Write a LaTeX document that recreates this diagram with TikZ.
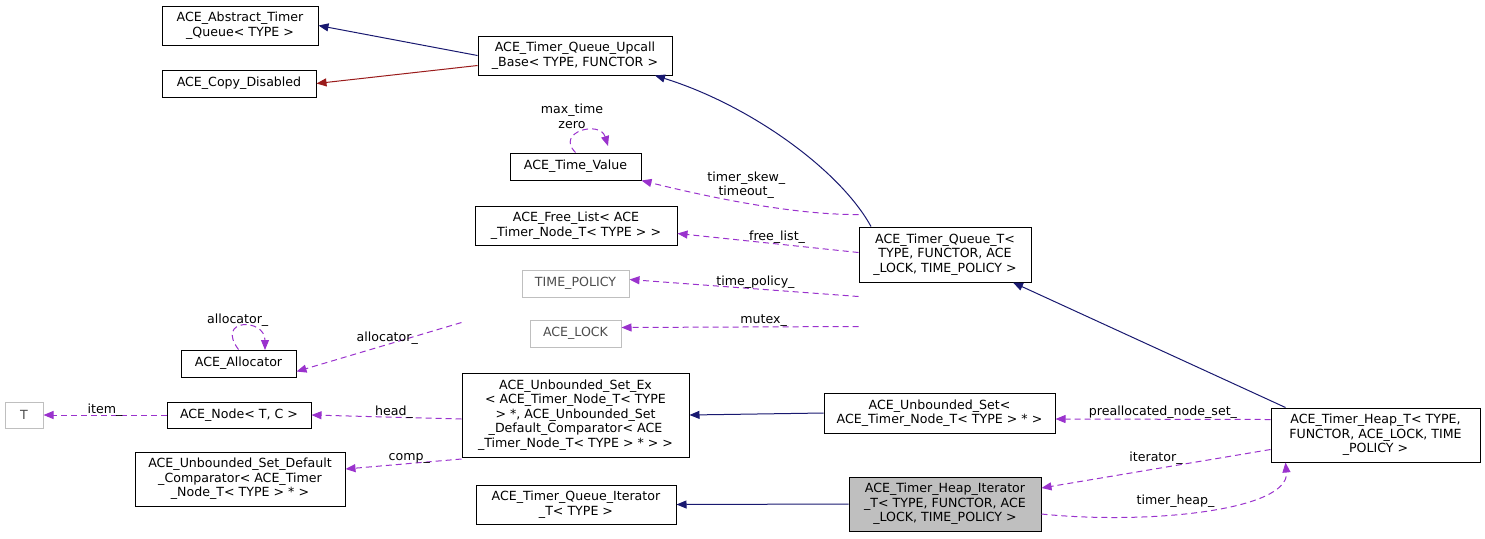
\documentclass[tikz,border=0pt]{standalone}
\usepackage{fontspec}
\setmainfont{DejaVu Sans}
\usetikzlibrary{positioning, calc, arrows.meta}
\definecolor{navyc}{HTML}{191970}
\definecolor{redc}{HTML}{9A1B1B}
\definecolor{purc}{HTML}{9A32CD}
\definecolor{grayc}{HTML}{BFBFBF}
\tikzset{
  cls/.style={draw=black, line width=0.5pt, align=center, inner sep=1pt,
    font=\fontsize{6.3}{7.3}\selectfont},
  ext/.style={cls, draw=grayc, text=black!70},
  inh/.style={navyc, line width=0.5pt, -{Triangle[length=5pt,width=4pt]}},
  priv/.style={inh, draw=redc, -{Triangle[length=5pt,width=4pt,fill=redc]}},
  use/.style={purc, dashed, line width=0.5pt, dash pattern=on 3pt off 2pt,
    -{Triangle[length=5pt,width=4pt]}},
  lbl/.style={font=\fontsize{6.3}{7.3}\selectfont, align=center, inner sep=0pt, text=black}
}
\begin{document}
\begin{tikzpicture}[x=0.5pt, y=-0.5pt]
\useasboundingbox (0,0) rectangle (1485,538);

% classes
\node[cls, minimum width=78pt, minimum height=19.5pt] (abst) at (240,25.5) {ACE\_Abstract\_Timer\\\_Queue< TYPE >};
\node[cls, minimum width=77pt, minimum height=13.5pt] (copy) at (239,83.5) {ACE\_Copy\_Disabled};
\node[cls, minimum width=97pt, minimum height=19.5pt] (upcall) at (575,55.5) {ACE\_Timer\_Queue\_Upcall\\\_Base< TYPE, FUNCTOR >};
\node[cls, minimum width=65.5pt, minimum height=13.5pt] (tval) at (575.5,166.5) {ACE\_Time\_Value};
\node[cls, minimum width=101pt, minimum height=19.5pt] (free) at (576,225.5) {ACE\_Free\_List< ACE\\\_Timer\_Node\_T< TYPE > >};
\node[ext, minimum width=53.5pt, minimum height=13.5pt] (tpol) at (575.5,283.5) {TIME\_POLICY};
\node[ext, minimum width=45.5pt, minimum height=13.5pt] (lock) at (575.5,333.5) {ACE\_LOCK};
\node[cls, minimum width=86pt, minimum height=27.5pt] (tqt) at (945,254.5) {ACE\_Timer\_Queue\_T<\\TYPE, FUNCTOR, ACE\\\_LOCK, TIME\_POLICY >};
\node[cls, minimum width=57.5pt, minimum height=13.5pt] (alloc) at (238.5,363.5) {ACE\_Allocator};
\node[ext, minimum width=19pt, minimum height=13pt] (t) at (24,415) {T};
\node[cls, minimum width=72pt, minimum height=13pt] (anode) at (239,415) {ACE\_Node< T, C >};
\node[cls, minimum width=113.5pt, minimum height=42pt] (setex) at (575.5,415) {ACE\_Unbounded\_Set\_Ex\\< ACE\_Timer\_Node\_T< TYPE\\ > *, ACE\_Unbounded\_Set\\\_Default\_Comparator< ACE\\\_Timer\_Node\_T< TYPE > * > >};
\node[cls, minimum width=105pt, minimum height=27pt] (comp) at (240,479) {ACE\_Unbounded\_Set\_Default\\\_Comparator< ACE\_Timer\\\_Node\_T< TYPE > * >};
\node[cls, minimum width=115.5pt, minimum height=20pt] (uset) at (939.5,413) {ACE\_Unbounded\_Set<\\ACE\_Timer\_Node\_T< TYPE > * >};
\node[cls, minimum width=104.5pt, minimum height=27pt] (heap) at (1375.5,435) {ACE\_Timer\_Heap\_T< TYPE,\\FUNCTOR, ACE\_LOCK, TIME\\\_POLICY >};
\node[cls, minimum width=100pt, minimum height=19.5pt] (qiter) at (576,504.5) {ACE\_Timer\_Queue\_Iterator\\\_T< TYPE >};
\node[cls, fill=grayc, minimum width=96pt, minimum height=27pt] (hiter) at (945,504) {ACE\_Timer\_Heap\_Iterator\\\_T< TYPE, FUNCTOR, ACE\\\_LOCK, TIME\_POLICY >};

% inheritance
\draw[inh] (upcall.west) -- (abst.east);
\draw[priv] ([yshift=-5pt]upcall.west) -- (copy.east);
\draw[inh] ([xshift=-37pt]tqt.north) .. controls (840,170) and (750,105) .. ([xshift=40pt]upcall.south);
\draw[inh] ([xshift=-45pt]heap.north) -- ([xshift=34pt]tqt.south);
\draw[inh] (uset.west) -- (setex.east);
\draw[inh] (hiter.west) -- (qiter.east);

% usage
\draw[use] ([yshift=6pt]tqt.north west) .. controls (790,215) and (700,195) .. (tval.south east) node[lbl, pos=0.5, above=2pt] {timer\_skew\_\\timeout\_};
\draw[use] ([yshift=-13pt]tqt.north west) -- ([yshift=-4pt]free.east) node[lbl, pos=0.45, above] {free\_list\_};
\draw[use] ([yshift=-35pt]tqt.north west) -- ([yshift=2pt]tpol.east) node[lbl, pos=0.45, above] {time\_policy\_};
\draw[use] ([yshift=-50pt]tqt.north west) -- ([yshift=3pt]lock.east) node[lbl, pos=0.4, above] {mutex\_};
\draw[use] (tval.north) .. controls (555,132) and (600,120) .. (608,146) node[lbl, pos=0.3, above=4pt] {max\_time\\zero};
\draw[use] (alloc.north) .. controls (215,318) and (265,318) .. (265,350) node[lbl, pos=0.4, above=0pt] {allocator\_};
\draw[use] ([yshift=25pt]setex.north west) -- ([yshift=-4pt]alloc.east) node[lbl, pos=0.45, above] {allocator\_};
\draw[use] ([yshift=-2pt]setex.west) -- (anode.east) node[lbl, pos=0.45, above=-1pt] {head\_};
\draw[use] (anode.west) -- (t.east) node[lbl, pos=0.5, above=-1pt] {item\_};
\draw[use] ([yshift=-22pt]setex.west) -- ([yshift=5pt]comp.east) node[lbl, pos=0.45, above] {comp\_};
\draw[use] ([yshift=-6pt]heap.north west) -- ([yshift=-3pt]uset.east) node[lbl, pos=0.5, above] {preallocated\_node\_set\_};
\draw[use] ([yshift=-21pt]heap.north west) -- ([yshift=8pt]hiter.east) node[lbl, pos=0.5, above=2pt] {iterator\_};
\draw[use] ([yshift=-5pt]hiter.east) .. controls (1150,525) and (1290,510) .. ([xshift=-45pt]heap.south) node[lbl, pos=0.4, above=3pt] {timer\_heap\_};
\end{tikzpicture}
\end{document}
